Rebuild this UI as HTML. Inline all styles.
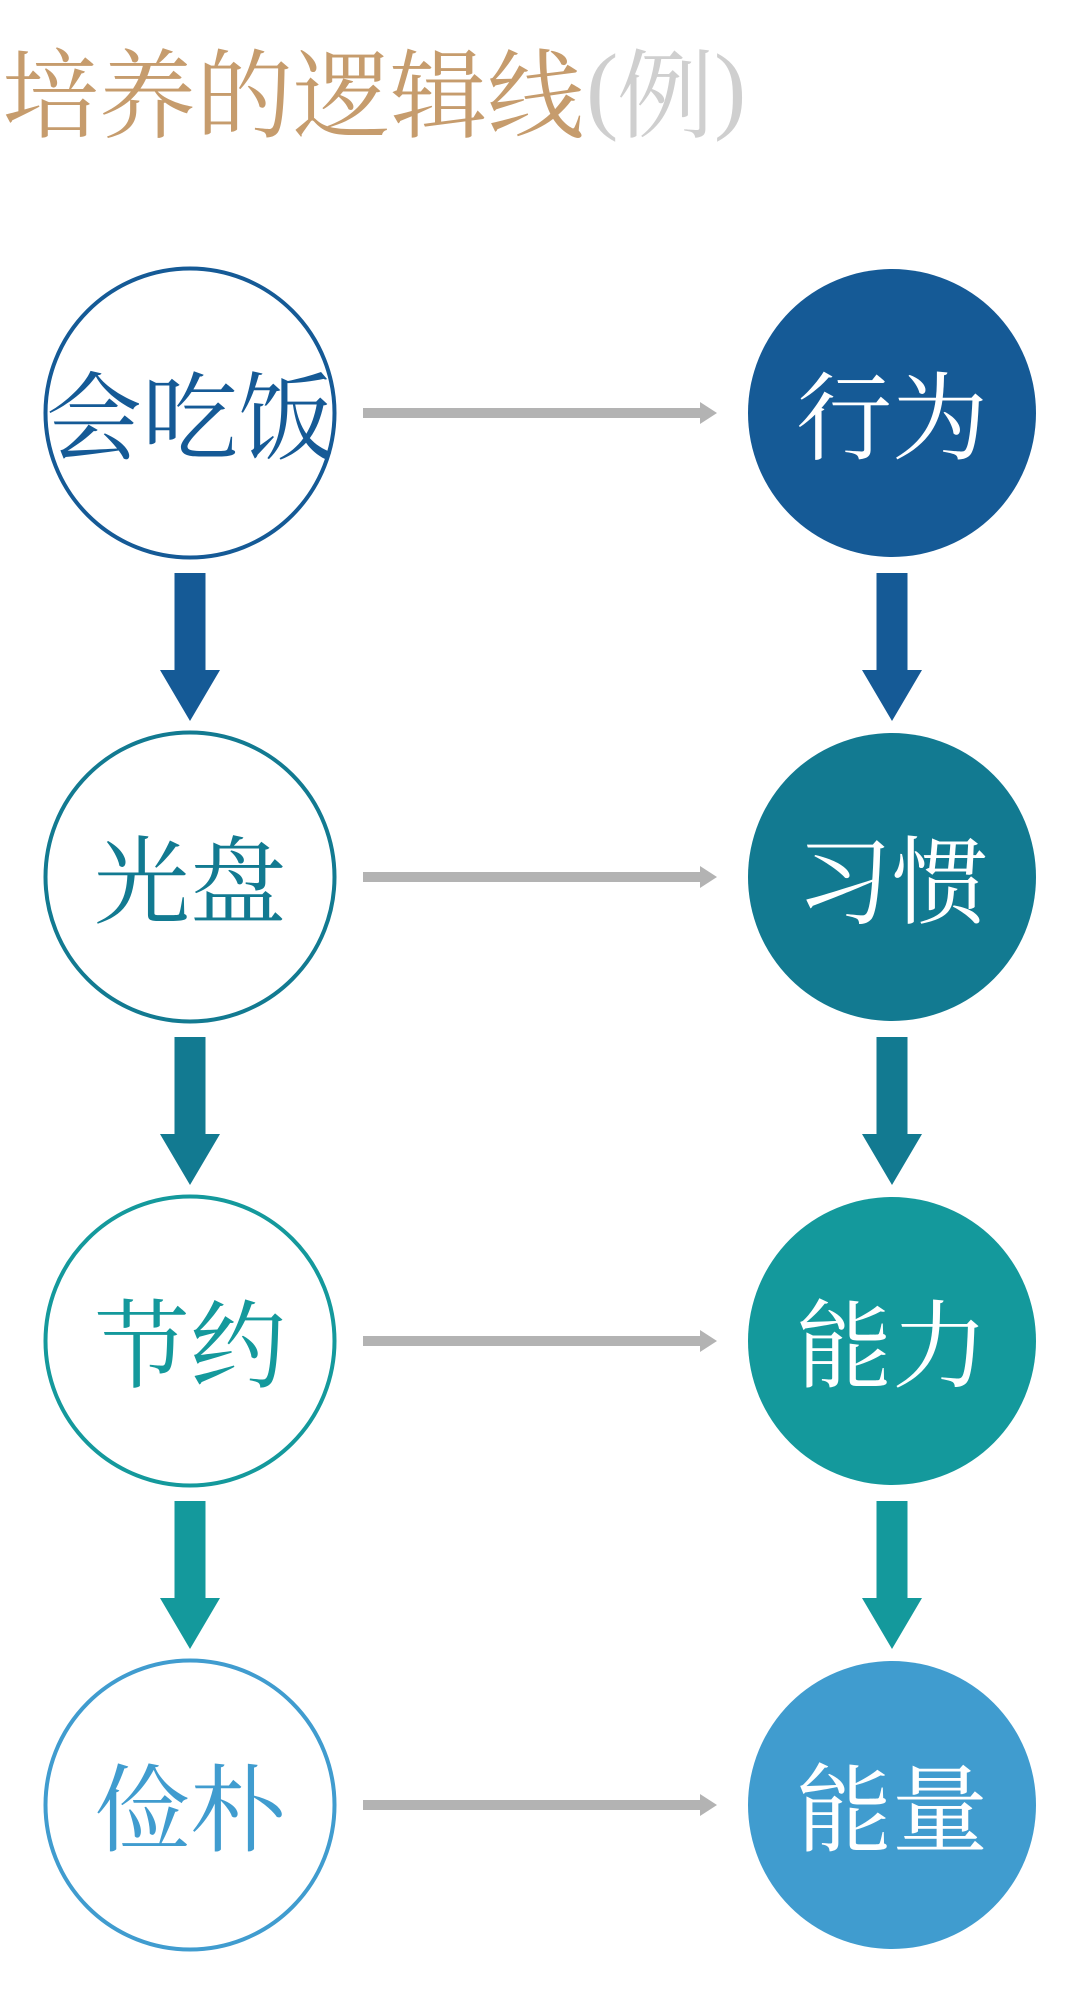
<!DOCTYPE html>
<html>
<head>
<meta charset="utf-8">
<style>
  html,body{margin:0;padding:0;background:#fff;}
  body{width:1080px;height:1991px;overflow:hidden;}
  svg{display:block;}
  text{font-family:"Liberation Serif","Noto Serif CJK SC","Noto Serif CJK JP",serif;}
</style>
</head>
<body>
<svg width="1080" height="1991" viewBox="0 0 1080 1991" xmlns="http://www.w3.org/2000/svg">
  <!-- Title -->
  <text x="2" y="130" font-size="97" fill="#C69C6D" font-family="Noto Serif CJK SC, serif">培养的逻辑线</text>
  <text x="586" y="121" font-size="97" fill="#CFCFCF" font-family="Liberation Serif, serif">(</text>
  <text x="617" y="130" font-size="97" fill="#CFCFCF" font-family="Noto Serif CJK SC, serif">例</text>
  <text x="714" y="121" font-size="97" fill="#CFCFCF" font-family="Liberation Serif, serif">)</text>

  <!-- Row 1 -->
  <circle cx="190" cy="413" r="144.5" fill="#fff" stroke="#155A96" stroke-width="4"/>
  <text x="190" y="452" font-size="96" fill="#155A96" text-anchor="middle" font-family="Noto Serif CJK SC, serif">会吃饭</text>
  <circle cx="892" cy="413" r="144" fill="#155A96"/>
  <text x="892" y="452" font-size="96" fill="#fff" text-anchor="middle" font-family="Noto Serif CJK SC, serif">行为</text>
  <polygon points="363,408 700,408 700,402 717,413 700,424 700,418 363,418" fill="#B3B3B3"/>

  <!-- Arrows row1 -> row2 -->
  <polygon points="174.5,573 205.5,573 205.5,670 220,670 190,721 160,670 174.5,670" fill="#155A96"/>
  <polygon points="876.5,573 907.5,573 907.5,670 922,670 892,721 862,670 876.5,670" fill="#155A96"/>

  <!-- Row 2 -->
  <circle cx="190" cy="877" r="144.5" fill="#fff" stroke="#127A91" stroke-width="4"/>
  <text x="190" y="916" font-size="96" fill="#127A91" text-anchor="middle" font-family="Noto Serif CJK SC, serif">光盘</text>
  <circle cx="892" cy="877" r="144" fill="#127A91"/>
  <text x="892" y="916" font-size="96" fill="#fff" text-anchor="middle" font-family="Noto Serif CJK SC, serif">习惯</text>
  <polygon points="363,872 700,872 700,866 717,877 700,888 700,882 363,882" fill="#B3B3B3"/>

  <!-- Arrows row2 -> row3 -->
  <polygon points="174.5,1037 205.5,1037 205.5,1134 220,1134 190,1185 160,1134 174.5,1134" fill="#127A91"/>
  <polygon points="876.5,1037 907.5,1037 907.5,1134 922,1134 892,1185 862,1134 876.5,1134" fill="#127A91"/>

  <!-- Row 3 -->
  <circle cx="190" cy="1341" r="144.5" fill="#fff" stroke="#14999C" stroke-width="4"/>
  <text x="190" y="1380" font-size="96" fill="#14999C" text-anchor="middle" font-family="Noto Serif CJK SC, serif">节约</text>
  <circle cx="892" cy="1341" r="144" fill="#14999C"/>
  <text x="892" y="1380" font-size="96" fill="#fff" text-anchor="middle" font-family="Noto Serif CJK SC, serif">能力</text>
  <polygon points="363,1336 700,1336 700,1330 717,1341 700,1352 700,1346 363,1346" fill="#B3B3B3"/>

  <!-- Arrows row3 -> row4 -->
  <polygon points="174.5,1501 205.5,1501 205.5,1598 220,1598 190,1649 160,1598 174.5,1598" fill="#14999C"/>
  <polygon points="876.5,1501 907.5,1501 907.5,1598 922,1598 892,1649 862,1598 876.5,1598" fill="#14999C"/>

  <!-- Row 4 -->
  <circle cx="190" cy="1805" r="144.5" fill="#fff" stroke="#409CCF" stroke-width="4"/>
  <text x="190" y="1844" font-size="96" fill="#409CCF" text-anchor="middle" font-family="Noto Serif CJK SC, serif">俭朴</text>
  <circle cx="892" cy="1805" r="144" fill="#409CCF"/>
  <text x="892" y="1844" font-size="96" fill="#fff" text-anchor="middle" font-family="Noto Serif CJK SC, serif">能量</text>
  <polygon points="363,1800 700,1800 700,1794 717,1805 700,1816 700,1810 363,1810" fill="#B3B3B3"/>
</svg>
</body>
</html>
